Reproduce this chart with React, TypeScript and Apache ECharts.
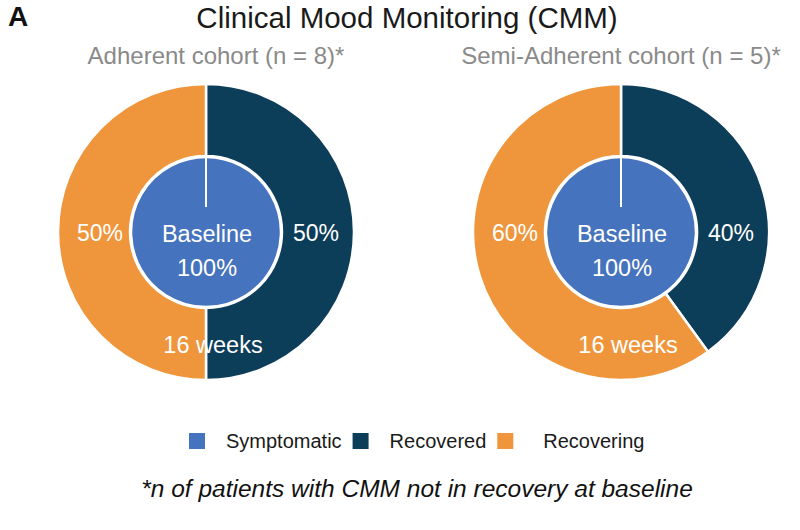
import React, { useEffect, useRef } from "react";
import * as echarts from "echarts";

const categories = ["Symptomatic", "Recovered", "Recovering"];
const cohorts = ["Adherent cohort (n = 8)*", "Semi-Adherent cohort (n = 5)*"];
const baselineSymptomatic = [100, 100];
const recovered = [50, 40];
const recovering = [50, 60];
const innerLabel = "Baseline";
const outerLabel = "16 weeks";

const COLORS = ["#4673bd", "#0c3d59", "#ef963c"];
const FONT = "Liberation Sans, Arial, sans-serif";

export default function App() {
  const ref = useRef<HTMLDivElement>(null);
  useEffect(() => {
    document.body.style.margin = "0";
    const chart = echarts.init(ref.current!, null, { renderer: "svg" });
    const centers = [
      [206, 232],
      [621, 232],
    ];
    const subX = [216, 621];
    const rIn = 75;
    const rOut = 148;
    const series: any[] = [];
    const graphic: any[] = [];
    const txt = (x: number, y: number, text: string, size: number, fill = "#fff", extra: any = {}) => ({
      type: "text",
      x,
      y,
      z: 10,
      style: {
        text,
        fill,
        font: `${size}px ${FONT}`,
        align: "center",
        verticalAlign: "middle",
        ...extra,
      },
    });
    cohorts.forEach((c, i) => {
      const [cx, cy] = centers[i];
      series.push({
        type: "pie",
        center: [cx, cy],
        radius: [0, rIn],
        startAngle: 90,
        clockwise: true,
        silent: true,
        data: [{ name: categories[0], value: baselineSymptomatic[i] }],
        itemStyle: { color: COLORS[0], borderColor: "#fff", borderWidth: 2.5 },
        label: { show: false },
        labelLine: { show: false },
      });
      series.push({
        type: "pie",
        center: [cx, cy],
        radius: [rIn + 1, rOut],
        startAngle: 90,
        clockwise: true,
        silent: true,
        data: [
          { name: categories[1], value: recovered[i], itemStyle: { color: COLORS[1] } },
          { name: categories[2], value: recovering[i], itemStyle: { color: COLORS[2] } },
        ],
        itemStyle: { borderColor: "#fff", borderWidth: 2.5 },
        label: { show: false },
        labelLine: { show: false },
      });
      graphic.push(
        {
          type: "line",
          shape: { x1: cx, y1: cy - rIn, x2: cx, y2: cy - 25 },
          style: { stroke: "#fff", lineWidth: 2 },
          z: 10,
        },
        txt(subX[i], 55, c, 24, "#8a8a8a"),
        txt(cx + 110, 233, `${recovered[i]}%`, 23),
        txt(cx - 106, 233, `${recovering[i]}%`, 23),
        txt(cx + 1, 234, innerLabel, 23.5),
        txt(cx + 1, 268, `${baselineSymptomatic[i]}%`, 23.5),
        txt(cx + 7, 345, outerLabel, 23.5)
      );
    });
    graphic.push(
      {
        type: "text",
        x: 8,
        y: 2,
        style: { text: "A", fill: "#111", font: `bold 28px ${FONT}`, verticalAlign: "top" },
      },
      txt(407, 17, "Clinical Mood Monitoring (CMM)", 29.5, "#1a1a1a"),
      txt(417, 488, "*n of patients with CMM not in recovery at baseline", 24.5, "#111", {
        font: `italic 24.5px ${FONT}`,
      })
    );
    chart.setOption({
      animation: false,
      backgroundColor: "#fff",
      legend: {
        data: [
          { name: categories[0] },
          { name: categories[1] },
          { name: categories[2], textStyle: { padding: [0, 0, 0, 24] } },
        ],
        left: 182,
        top: 426,
        icon: "rect",
        itemWidth: 18,
        itemHeight: 18,
        itemGap: 9,
        selectedMode: false,
        textStyle: { fontSize: 20, color: "#1a1a1a", fontFamily: FONT, padding: [0, 0, 0, 15] },
      },
      series,
      graphic,
    });
    return () => chart.dispose();
  }, []);
  return <div ref={ref} style={{ width: 800, height: 530 }} />;
}
